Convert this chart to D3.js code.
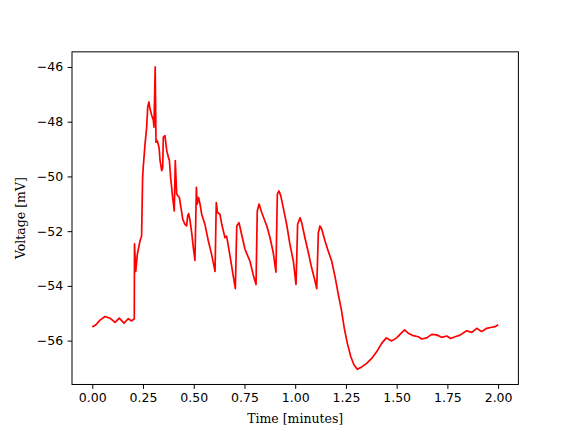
<!DOCTYPE html>
<html>
<head>
<meta charset="utf-8">
<script src="https://cdn.jsdelivr.net/npm/d3@7"></script>
<style>
  body { margin: 0; background: #fff; }
  .tick text { font-family: "DejaVu Sans", sans-serif; font-size: 12.5px; fill: #000; }
  .lbl { font-family: "DejaVu Serif", serif; font-size: 12.5px; fill: #000; }
</style>
</head>
<body>
<div id="chart"></div>
<script>
var width = 576;
var height = 432;

// time in minutes, voltage in mV
var times = [
  0.000, 0.018, 0.038, 0.063, 0.087, 0.112, 0.133, 0.156, 0.177, 0.194, 0.207,
  0.208, 0.214, 0.222, 0.235, 0.243, 0.248, 0.251, 0.260, 0.268, 0.273, 0.279,
  0.284, 0.293, 0.301, 0.304, 0.310, 0.314, 0.320, 0.329, 0.334, 0.342, 0.347,
  0.350, 0.358, 0.367, 0.375, 0.380, 0.386, 0.391, 0.396, 0.404, 0.409, 0.416,
  0.429, 0.437, 0.446, 0.457, 0.465, 0.470, 0.475, 0.482, 0.490, 0.498, 0.506,
  0.513, 0.517, 0.524, 0.531, 0.539, 0.555, 0.572, 0.588, 0.605,
  0.611, 0.617, 0.629, 0.638, 0.654, 0.662, 0.679, 0.695, 0.705,
  0.712, 0.723, 0.736, 0.753, 0.777, 0.793, 0.807,
  0.813, 0.822, 0.835, 0.860, 0.876, 0.892, 0.905,
  0.912, 0.920, 0.929, 0.941, 0.958, 0.974, 0.991, 1.004,
  1.012, 1.024, 1.032, 1.048, 1.065, 1.081, 1.098, 1.106,
  1.114, 1.122, 1.131, 1.147, 1.163, 1.180, 1.196, 1.212, 1.229, 1.242,
  1.257, 1.274, 1.290, 1.306, 1.328, 1.352, 1.377, 1.402, 1.426, 1.449,
  1.476, 1.500, 1.525, 1.539, 1.557, 1.582, 1.607, 1.623, 1.648, 1.673,
  1.697, 1.722, 1.747, 1.766, 1.788, 1.812, 1.845, 1.870, 1.895, 1.919,
  1.944, 1.968, 1.985, 2.000
];
var voltage = [
  -55.50, -55.42, -55.25, -55.12, -55.18, -55.33, -55.18, -55.36, -55.20, -55.28, -55.20,
  -52.46, -53.47, -52.85, -52.36, -52.18, -50.04, -49.67, -48.81, -48.20, -47.47, -47.28,
  -47.52, -47.77, -47.95, -48.20, -46.00, -48.75, -48.69, -48.94, -49.42, -49.79, -49.67,
  -48.57, -48.51, -49.06, -49.30, -49.42, -50.04, -50.40, -50.77, -51.26, -49.42, -50.65,
  -50.77, -51.14, -51.57, -51.75, -51.81, -51.44, -51.36, -51.63, -52.06, -52.61, -53.07,
  -50.40, -51.01, -50.77, -51.01, -51.38, -51.75, -52.36, -52.85, -53.47,
  -50.96, -51.32, -51.38, -51.75, -52.24, -52.18, -52.91, -53.65, -54.10,
  -51.81, -51.69, -52.12, -52.67, -53.10, -53.59, -53.95,
  -51.26, -51.01, -51.32, -51.81, -52.24, -52.79, -53.50,
  -50.65, -50.53, -50.71, -51.14, -51.75, -52.48, -53.10, -53.95,
  -51.75, -51.51, -51.69, -52.24, -52.79, -53.34, -53.83, -54.10,
  -52.06, -51.81, -51.93, -52.36, -52.73, -53.10, -53.65, -54.29, -54.93, -55.55,
  -56.10, -56.59, -56.89, -57.05, -56.96, -56.83, -56.65, -56.40, -56.10, -55.90,
  -56.01, -55.90, -55.71, -55.61, -55.73, -55.82, -55.86, -55.94, -55.90, -55.77,
  -55.79, -55.88, -55.83, -55.92, -55.86, -55.80, -55.64, -55.70, -55.55, -55.67,
  -55.55, -55.51, -55.49, -55.42
];
var xTicks = [0, 0.25, 0.5, 0.75, 1, 1.25, 1.5, 1.75, 2];
var yTicks = [-56, -54, -52, -50, -48, -46];

var margin = { left: 72, right: 57.6, top: 51.84, bottom: 47.52 };

var points = times.map(function (t, i) {
  return { t: t, v: voltage[i] };
});

var svg = d3
  .select("#chart")
  .append("svg")
  .attr("width", width)
  .attr("height", height);

// matplotlib style 5% margins around the data range
var xMin = d3.min(times), xMax = d3.max(times);
var yMin = d3.min(voltage), yMax = d3.max(voltage);
var xPad = (xMax - xMin) * 0.05;
var yPad = (yMax - yMin) * 0.05;

var x = d3
  .scaleLinear()
  .domain([xMin - xPad, xMax + xPad])
  .range([margin.left, width - margin.right]);

var y = d3
  .scaleLinear()
  .domain([yMin - yPad, yMax + yPad])
  .range([height - margin.bottom, margin.top]);

var line = d3
  .line()
  .x(function (d) { return x(d.t); })
  .y(function (d) { return y(d.v); });

svg
  .append("path")
  .datum(points)
  .attr("d", line)
  .attr("fill", "none")
  .attr("stroke", "#ff0000")
  .attr("stroke-width", 1.7)
  .attr("stroke-linejoin", "round");

var xAxis = svg
  .append("g")
  .attr("transform", "translate(0," + (height - margin.bottom) + ")")
  .call(
    d3.axisBottom(x).tickValues(xTicks).tickFormat(d3.format(".2f")).tickSize(4.4).tickPadding(4.4)
  );

var yAxis = svg
  .append("g")
  .attr("transform", "translate(" + margin.left + ",0)")
  .call(
    d3.axisLeft(y).tickValues(yTicks).tickFormat(d3.format("d")).tickSize(4.4).tickPadding(4.4)
  );

[xAxis, yAxis].forEach(function (a) {
  a.select(".domain").remove();
  a.selectAll(".tick line").attr("stroke", "#000").attr("stroke-width", 1);
});

// axes frame
svg
  .append("rect")
  .attr("x", margin.left)
  .attr("y", margin.top)
  .attr("width", width - margin.left - margin.right)
  .attr("height", height - margin.top - margin.bottom)
  .attr("fill", "none")
  .attr("stroke", "#000")
  .attr("stroke-width", 1);

svg
  .append("text")
  .attr("class", "lbl")
  .attr("x", (margin.left + width - margin.right) / 2)
  .attr("y", 423)
  .attr("text-anchor", "middle")
  .text("Time [minutes]");

svg
  .append("text")
  .attr("class", "lbl")
  .attr("transform", "translate(25," + (margin.top + height - margin.bottom) / 2 + ") rotate(-90)")
  .attr("text-anchor", "middle")
  .text("Voltage [mV]");
</script>
</body>
</html>
